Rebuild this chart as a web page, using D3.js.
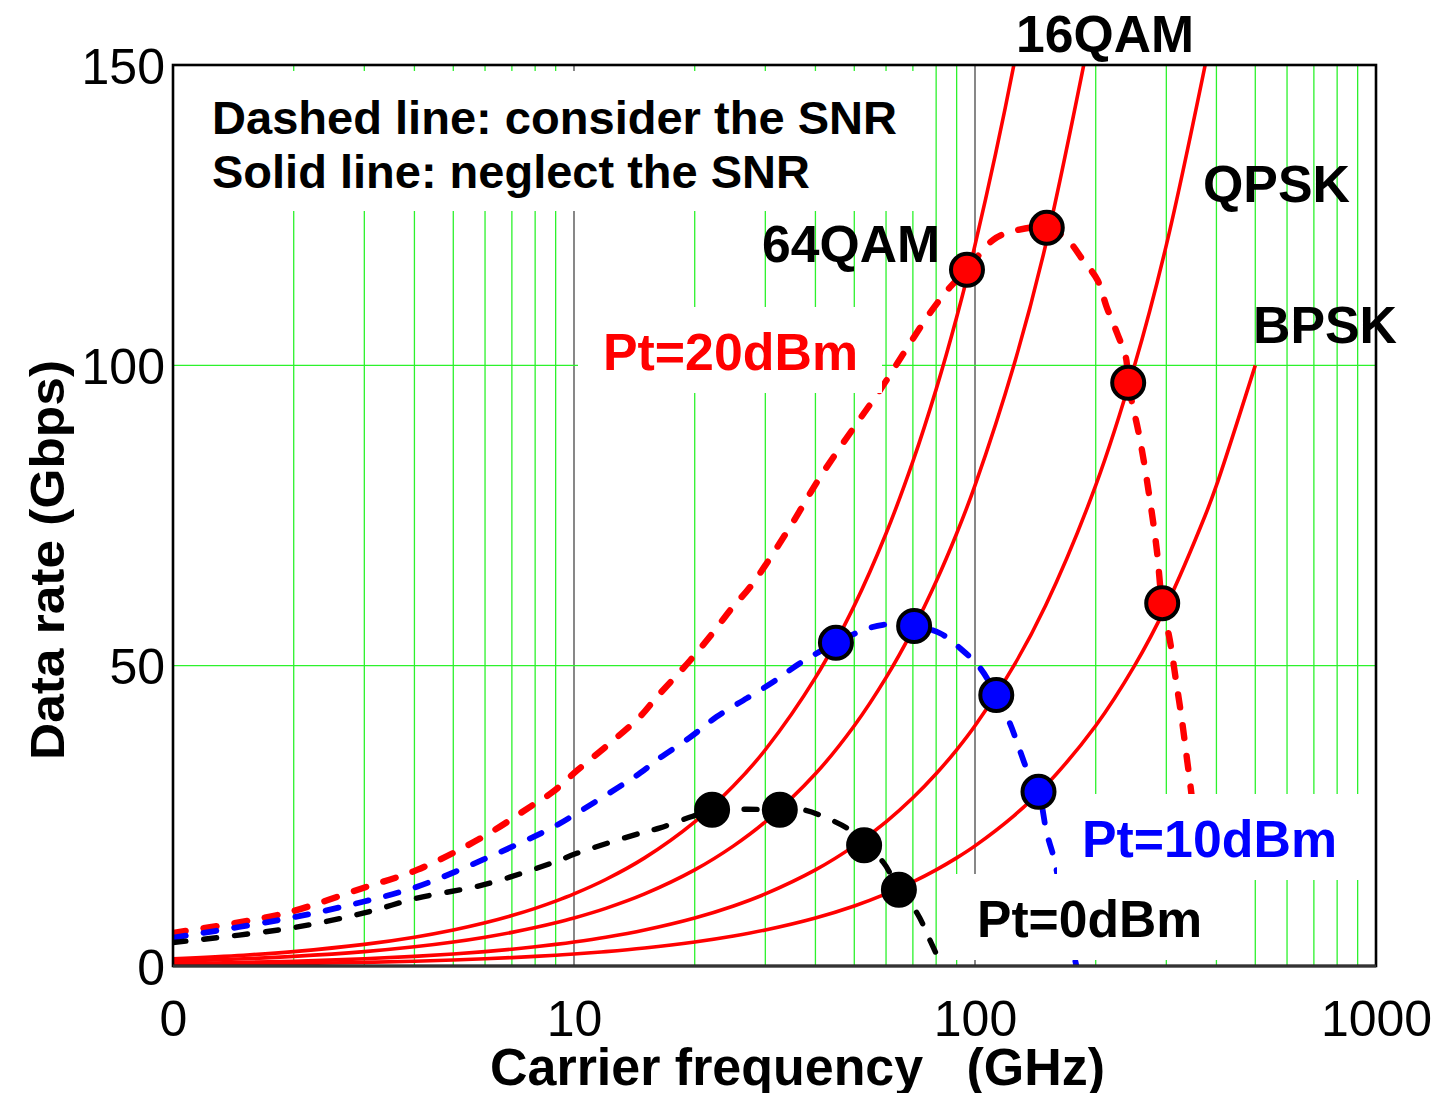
<!DOCTYPE html>
<html>
<head>
<meta charset="utf-8">
<script src="https://cdn.jsdelivr.net/npm/d3@7"></script>
<style>
  html, body { margin: 0; padding: 0; background: #ffffff; }
  svg { display: block; }
</style>
</head>
<body>
<svg id="chart" width="1434" height="1093"></svg>
<script>
// ---- Data: achievable data rate (Gbps) versus carrier frequency (GHz) ----

// Solid lines: rate when the SNR is neglected, one per modulation
const freqSolid = [1, 1.5, 2, 3, 4, 5, 6, 7, 8, 9, 10, 12, 15, 20, 25, 30, 40, 50, 60, 70, 80, 90, 100, 125, 150, 200, 250, 300, 375, 400, 500];
const rate64QAM = [1.2, 1.8, 2.4, 3.6, 4.8, 6, 7.2, 8.4, 9.6, 10.8, 12, 14.4, 18, 24, 30, 36, 48, 60, 72, 84, 96, 108, 120, 150, 180];
const rate16QAM = [0.8, 1.2, 1.6, 2.4, 3.2, 4, 4.8, 5.6, 6.4, 7.2, 8, 9.6, 12, 16, 20, 24, 32, 40, 48, 56, 64, 72, 80, 100, 120, 160];
const rateQPSK  = [0.4, 0.6, 0.8, 1.2, 1.6, 2, 2.4, 2.8, 3.2, 3.6, 4, 4.8, 6, 8, 10, 12, 16, 20, 24, 28, 32, 36, 40, 50, 60, 80, 100, 120, 150];
const rateBPSK  = [0.2, 0.3, 0.4, 0.6, 0.8, 1, 1.2, 1.4, 1.6, 1.8, 2, 2.4, 3, 4, 5, 6, 8, 10, 12, 14, 16, 18, 20, 25, 30, 40, 50, 60, 75, 80, 100];

// Dashed lines: best achievable rate when the SNR is considered, per transmit power
const freqPt20 = [1, 1.47, 1.96, 2.98, 4.06, 5.93, 7.77, 8.86, 10.2, 12.3, 14.6, 16.1, 19.5, 21.8, 24.9, 27.5, 34.5, 41.1, 50.8, 58.0, 68.9, 77.2, 86.6, 95.5, 111, 127, 151, 170, 186, 202, 213, 226, 238, 241, 258, 273, 284, 293, 306, 317, 328, 338, 348, 364, 381];
const ratePt20 = [5.5, 7.3, 9.0, 13.0, 16.0, 21.5, 26.5, 29.0, 32.6, 37.1, 41.5, 44.8, 50.9, 54.8, 59.8, 63.1, 73.0, 81.4, 90.4, 95.9, 103.7, 108.7, 113.0, 115.9, 120.9, 122.5, 122.9, 120.9, 117.5, 114.2, 109.7, 105.4, 101.2, 97.1, 87.6, 77.6, 69.3, 60.4, 54.3, 47.6, 41.0, 34.3, 27.6, 14.3, 0];

const freqPt10 = [1, 1.96, 2.98, 4.06, 5.93, 8.86, 10.2, 14.6, 16.1, 19.5, 22.7, 27.0, 31.4, 36.6, 45.0, 52.6, 59.0, 70.5, 81.8, 91.8, 103, 113, 122, 130, 137, 144, 151, 157, 169, 179];
const ratePt10 = [4.7, 8.0, 10.7, 13.2, 17.7, 23.1, 25.5, 32.1, 34.3, 38.1, 41.5, 44.6, 47.3, 50.4, 53.8, 55.9, 56.8, 56.6, 55.4, 52.9, 49.6, 45.1, 40.5, 35.5, 31.5, 29.0, 22.1, 18.2, 7.7, 0];

const freqPt0 = [1, 1.96, 2.98, 4.06, 5.93, 8.86, 10.2, 14.6, 16.4, 19.5, 22.1, 27.0, 32.6, 37.3, 42.8, 48.8, 52.9, 59.0, 64.6, 71.7, 77.2, 82.7];
const ratePt0 = [3.9, 6.3, 8.8, 11.3, 13.5, 17.2, 18.8, 22.1, 23.0, 24.8, 26.0, 26.1, 26.0, 26.0, 24.6, 22.6, 20.1, 17.3, 12.7, 8.8, 4.3, 0];

// Markers where each power curve crosses a modulation curve
const dotFreqPt20 = [95.5, 151, 241, 293];
const dotRatePt20 = [115.9, 122.9, 97.1, 60.4];
const dotFreqPt10 = [45.0, 70.5, 113, 144];
const dotRatePt10 = [53.8, 56.6, 45.1, 29.0];
const dotFreqPt0 = [22.1, 32.6, 52.9, 64.6];
const dotRatePt0 = [26.0, 26.0, 20.1, 12.7];

// Axis ticks
const xTickValues = [1, 10, 100, 1000];
const xTickLabels = ["0", "10", "100", "1000"];
const yTickValues = [0, 50, 100, 150];
const yTickLabels = ["0", "50", "100", "150"];

// ---- Layout ----
const plot = { left: 173, right: 1376, top: 65, bottom: 966 };
const FONT = "'Liberation Sans', Arial, Helvetica, sans-serif";

const svg = d3.select("#chart");
const x = d3.scaleLog().domain([1, 1000]).range([plot.left, plot.right]);
const y = d3.scaleLinear().domain([0, 150]).range([plot.bottom, plot.top]);

const zip = (fs, rs) => rs.map((r, i) => [fs[i], r]);

svg.append("defs").append("clipPath").attr("id", "plotClip")
  .append("rect")
  .attr("x", plot.left).attr("y", plot.top)
  .attr("width", plot.right - plot.left).attr("height", plot.bottom - plot.top);

// ---- Grid ----
const grid = svg.append("g");
const minorFreqs = [];
[1, 10, 100].forEach(dec => { for (let k = 2; k <= 9; k++) minorFreqs.push(k * dec); });

grid.selectAll("line.minor").data(minorFreqs).join("line")
  .attr("x1", d => x(d)).attr("x2", d => x(d))
  .attr("y1", plot.top).attr("y2", plot.bottom)
  .attr("stroke", "#2cf22c").attr("stroke-width", 1.3);

grid.selectAll("line.major").data([10, 100]).join("line")
  .attr("x1", d => x(d)).attr("x2", d => x(d))
  .attr("y1", plot.top).attr("y2", plot.bottom)
  .attr("stroke", "#555555").attr("stroke-width", 1.4);

grid.selectAll("line.h").data([50, 100]).join("line")
  .attr("x1", plot.left).attr("x2", plot.right)
  .attr("y1", d => y(d)).attr("y2", d => y(d))
  .attr("stroke", "#2cf22c").attr("stroke-width", 1.3);

// ---- Curves ----
const line = d3.line()
  .x(d => x(d[0])).y(d => y(d[1]))
  .curve(d3.curveCatmullRom.alpha(0.5));

const curves = svg.append("g").attr("clip-path", "url(#plotClip)");

[rate64QAM, rate16QAM, rateQPSK, rateBPSK].forEach(rates => {
  curves.append("path")
    .attr("d", line(zip(freqSolid, rates)))
    .attr("fill", "none").attr("stroke", "#ff0000")
    .attr("stroke-width", 3.6).attr("stroke-linejoin", "round");
});

const dashed = [
  { f: freqPt20, r: ratePt20, color: "#ff0000", w: 6.4 },
  { f: freqPt10, r: ratePt10, color: "#0000ff", w: 5.8 },
  { f: freqPt0,  r: ratePt0,  color: "#000000", w: 5.4 }
];
dashed.forEach(s => {
  curves.append("path")
    .attr("d", line(zip(s.f, s.r)))
    .attr("fill", "none").attr("stroke", s.color)
    .attr("stroke-width", s.w)
    .attr("stroke-linecap", "round")
    .attr("stroke-dasharray", "13 18");
});

// ---- Text labels with white backgrounds ----
const boxed = [
  { lines: [
      { text: "Dashed line: consider the SNR", x: 212, y: 134, w: 685 },
      { text: "Solid line: neglect the SNR", x: 212, y: 188, w: 598 }
    ], size: 47, color: "#000000" },
  { lines: [{ text: "Pt=20dBm", x: 603, y: 370, w: 255 }], size: 52, color: "#ff0000" },
  { lines: [{ text: "Pt=10dBm", x: 1082, y: 857, w: 255 }], size: 52, color: "#0000ff" },
  { lines: [{ text: "Pt=0dBm", x: 977, y: 937, w: 225 }], size: 52, color: "#000000" }
];

const boxLayer = svg.append("g");
boxed.forEach(b => {
  const x0 = d3.min(b.lines, l => l.x) - 25;
  const x1 = Math.min(d3.max(b.lines, l => l.x + l.w) + 24, plot.right - 2);
  const y0 = Math.max(d3.min(b.lines, l => l.y) - 63, plot.top + 6);
  const y1 = d3.max(b.lines, l => l.y) + 23;
  boxLayer.append("rect")
    .attr("x", x0).attr("y", y0)
    .attr("width", x1 - x0).attr("height", y1 - y0)
    .attr("fill", "#ffffff");
});

// ---- Crossing markers ----
const dots = svg.append("g");
[
  { f: dotFreqPt20, r: dotRatePt20, color: "#ff0000" },
  { f: dotFreqPt10, r: dotRatePt10, color: "#0000ff" },
  { f: dotFreqPt0,  r: dotRatePt0,  color: "#000000" }
].forEach(s => {
  dots.selectAll(null).data(zip(s.f, s.r)).join("circle")
    .attr("cx", d => x(d[0])).attr("cy", d => y(d[1]))
    .attr("r", 16)
    .attr("fill", s.color).attr("stroke", "#000000").attr("stroke-width", 4);
});

// ---- Text ----
const texts = svg.append("g")
  .attr("font-family", FONT).attr("font-weight", "bold");

boxed.forEach(b => {
  b.lines.forEach(l => {
    texts.append("text")
      .attr("x", l.x).attr("y", l.y)
      .attr("font-size", b.size).attr("fill", b.color)
      .attr("textLength", l.w).attr("lengthAdjust", "spacingAndGlyphs")
      .text(l.text);
  });
});

const modLabels = [
  { text: "16QAM", x: 1016, y: 52, w: 178 },
  { text: "64QAM", x: 762, y: 262, w: 178 },
  { text: "QPSK", x: 1203, y: 202, w: 147 },
  { text: "BPSK", x: 1253, y: 343, w: 144 }
];
modLabels.forEach(l => {
  texts.append("text")
    .attr("x", l.x).attr("y", l.y)
    .attr("font-size", 52).attr("fill", "#000000")
    .attr("textLength", l.w).attr("lengthAdjust", "spacingAndGlyphs")
    .text(l.text);
});

// ---- Axes ----
const xAxis = d3.axisBottom(x)
  .tickValues(xTickValues)
  .tickFormat((d, i) => xTickLabels[i])
  .tickSize(0).tickPadding(0);
const gx = svg.append("g")
  .attr("transform", `translate(0,${plot.bottom})`)
  .call(xAxis);
gx.select(".domain").remove();
gx.selectAll("text")
  .attr("font-family", FONT).attr("font-size", 50).attr("fill", "#000")
  .attr("dy", null).attr("y", 70);

const yAxis = d3.axisLeft(y)
  .tickValues(yTickValues)
  .tickFormat((d, i) => yTickLabels[i])
  .tickSize(0).tickPadding(8);
const gy = svg.append("g")
  .attr("transform", `translate(${plot.left},0)`)
  .call(yAxis);
gy.select(".domain").remove();
gy.selectAll("text")
  .attr("font-family", FONT).attr("font-size", 50).attr("fill", "#000")
  .attr("dy", "0.36em");

// Axis titles
svg.append("text")
  .attr("x", 490).attr("y", 1085)
  .attr("font-family", FONT).attr("font-weight", "bold").attr("font-size", 51)
  .attr("textLength", 615).attr("lengthAdjust", "spacingAndGlyphs")
  .style("white-space", "pre")
  .text("Carrier frequency   (GHz)");

svg.append("text")
  .attr("transform", "translate(64,560) rotate(-90)")
  .attr("text-anchor", "middle")
  .attr("font-family", FONT).attr("font-weight", "bold").attr("font-size", 48)
  .attr("textLength", 400).attr("lengthAdjust", "spacingAndGlyphs")
  .text("Data rate (Gbps)");

// ---- Frame ----
svg.append("rect")
  .attr("x", plot.left).attr("y", plot.top)
  .attr("width", plot.right - plot.left).attr("height", plot.bottom - plot.top)
  .attr("fill", "none").attr("stroke", "#000000").attr("stroke-width", 2.6);
svg.append("line")
  .attr("x1", plot.left).attr("x2", plot.right)
  .attr("y1", plot.bottom).attr("y2", plot.bottom)
  .attr("stroke", "#333333").attr("stroke-width", 3);
</script>
</body>
</html>
